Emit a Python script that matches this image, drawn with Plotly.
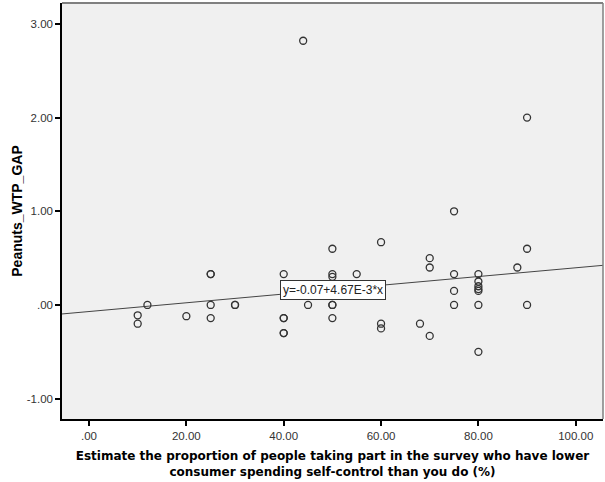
import plotly.graph_objects as go

# Data
x_vals = [10, 10, 12, 20, 25, 25, 25, 25, 30, 30, 40, 40, 40, 40, 40, 44, 45,
          50, 50, 50, 50, 50, 50, 55, 60, 60, 60, 68, 70, 70, 70,
          75, 75, 75, 75, 80, 80, 80, 80, 80, 80, 80, 88, 90, 90, 90]
y_vals = [-0.11, -0.20, 0.00, -0.12, 0.33, 0.33, 0.00, -0.14, 0.00, 0.00, 0.33, -0.14, -0.14, -0.30, -0.30, 2.82, 0.00,
          0.60, 0.33, 0.30, 0.00, -0.14, 0.00, 0.33, 0.67, -0.20, -0.25, -0.20, 0.50, 0.40, -0.33,
          1.00, 0.33, 0.15, 0.00, 0.33, 0.25, 0.20, 0.17, 0.15, 0.00, -0.50, 0.40, 2.00, 0.60, 0.00]

intercept = -0.07
slope = 4.67e-3
fit_label = "y=-0.07+4.67E-3*x"

x_ticks = [0, 20, 40, 60, 80, 100]
x_ticktext = [".00", "20.00", "40.00", "60.00", "80.00", "100.00"]
y_ticks = [-1, 0, 1, 2, 3]
y_ticktext = ["-1.00", ".00", "1.00", "2.00", "3.00"]

x_range = [-5.55, 105.6]
y_range = [-1.217, 3.223]

x_title_lines = ["Estimate the proportion of people taking part in the survey who have lower",
                 "consumer spending self-control than you do (%)"]
y_title = "Peanuts_WTP_GAP"

fig = go.Figure()

fig.add_trace(go.Scatter(
    x=x_range,
    y=[intercept + slope * v for v in x_range],
    mode="lines",
    line=dict(color="#444444", width=1),
    hoverinfo="skip",
    showlegend=False,
))

fig.add_trace(go.Scatter(
    x=x_vals, y=y_vals, mode="markers",
    marker=dict(symbol="circle-open", size=7, color="#333333",
                line=dict(color="#333333", width=1.3)),
    showlegend=False,
))

fig.add_annotation(
    x=50.2, y=0.16, xref="x", yref="y", text=fit_label, showarrow=False,
    font=dict(family="Liberation Sans, Arial", size=12, color="#222222"),
    bgcolor="white", bordercolor="#333333", borderwidth=1, borderpad=2,
)

axis_font = dict(family="Liberation Sans, Arial", size=11.5, color="#333333")
fig.update_xaxes(
    range=x_range, tickvals=x_ticks, ticktext=x_ticktext,
    showgrid=False, zeroline=False, showline=True, linecolor="black", linewidth=1.5,
    ticks="outside", ticklen=5, tickcolor="black", tickwidth=1.5, tickfont=axis_font,
    title=dict(text="<br>".join("<b>" + s + "</b>" for s in x_title_lines),
               font=dict(family="DejaVu Sans", size=12, color="black"), standoff=11),
)
fig.update_yaxes(
    range=y_range, tickvals=y_ticks, ticktext=y_ticktext,
    showgrid=False, zeroline=False, showline=True, linecolor="black", linewidth=1.5,
    ticks="outside", ticklen=5, tickcolor="black", tickwidth=1.5, tickfont=axis_font,
    title=dict(text="<b>" + y_title + "</b>", font=dict(family="Liberation Sans, Arial", size=14, color="black"), standoff=1),
)

# gray frame on top and right
fig.add_shape(type="line", xref="paper", yref="paper", x0=0, x1=1, y0=1, y1=1,
              line=dict(color="#808080", width=2))
fig.add_shape(type="line", xref="paper", yref="paper", x0=1, x1=1, y0=0, y1=1,
              line=dict(color="#808080", width=1.5))

fig.update_layout(
    width=605, height=482,
    margin=dict(l=62, r=2, t=3, b=63),
    paper_bgcolor="white", plot_bgcolor="#F0F0F0",
    font=dict(family="Liberation Sans, Arial"),
)

fig.write_html("out.html")
